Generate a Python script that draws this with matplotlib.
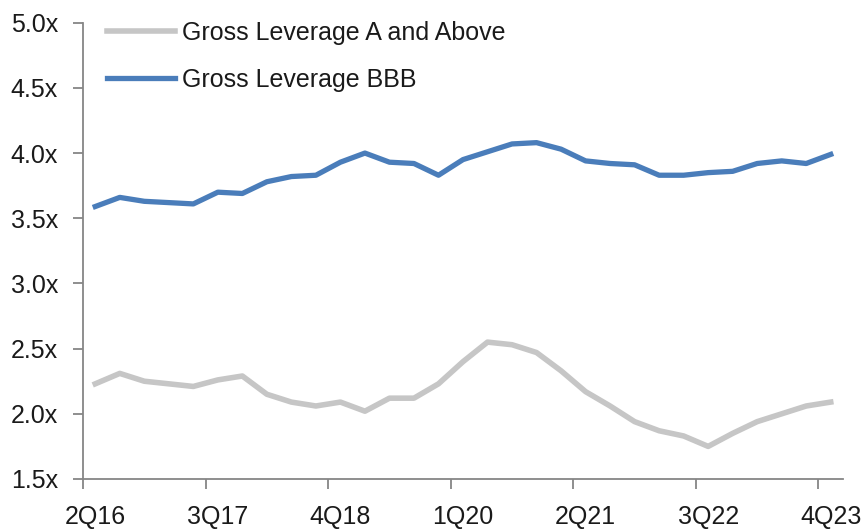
import matplotlib
matplotlib.use("Agg")
import matplotlib.pyplot as plt
from matplotlib import font_manager

# Quarterly gross leverage by rating bucket
quarters = [
    "2Q16", "3Q16", "4Q16",
    "1Q17", "2Q17", "3Q17", "4Q17",
    "1Q18", "2Q18", "3Q18", "4Q18",
    "1Q19", "2Q19", "3Q19", "4Q19",
    "1Q20", "2Q20", "3Q20", "4Q20",
    "1Q21", "2Q21", "3Q21", "4Q21",
    "1Q22", "2Q22", "3Q22", "4Q22",
    "1Q23", "2Q23", "3Q23", "4Q23",
]
a_and_above = [2.23, 2.31, 2.25, 2.23, 2.21, 2.26, 2.29, 2.15, 2.09, 2.06, 2.09,
               2.02, 2.12, 2.12, 2.23, 2.40, 2.55, 2.53, 2.47, 2.33, 2.17, 2.06,
               1.94, 1.87, 1.83, 1.75, 1.85, 1.94, 2.00, 2.06, 2.09]
bbb = [3.59, 3.66, 3.63, 3.62, 3.61, 3.70, 3.69, 3.78, 3.82, 3.83, 3.93,
       4.00, 3.93, 3.92, 3.83, 3.95, 4.01, 4.07, 4.08, 4.03, 3.94, 3.92,
       3.91, 3.83, 3.83, 3.85, 3.86, 3.92, 3.94, 3.92, 3.99]
shown_labels = ["2Q16", "3Q17", "4Q18", "1Q20", "2Q21", "3Q22", "4Q23"]
y_ticks = [1.5, 2.0, 2.5, 3.0, 3.5, 4.0, 4.5, 5.0]

available = {f.name for f in font_manager.fontManager.ttflist}
family = [f for f in ["Liberation Sans Narrow", "Liberation Sans", "DejaVu Sans"] if f in available]
plt.rcParams["font.family"] = family
FS = 18

GRAY = "#c6c6c6"
BLUE = "#4a7dba"
AXIS = "#868686"
TEXT = "#1a1a1a"

fig = plt.figure(figsize=(8.61, 5.32), dpi=100)
ax = fig.add_axes([83 / 861, 1 - 479 / 532, 760 / 861, (479 - 22.7) / 532])

x = list(range(len(quarters)))
ax.plot(x, a_and_above, color=GRAY, lw=4.0, solid_joinstyle="round",
        label="Gross Leverage A and Above")
ax.plot(x, bbb, color=BLUE, lw=3.8, solid_joinstyle="round",
        label="Gross Leverage BBB")

ax.set_xlim(-0.5, len(quarters) - 0.5)
ax.set_ylim(1.5, 5.0)

# tick marks sit on category boundaries, labels on category centres
idx = [quarters.index(q) for q in shown_labels]
ax.set_xticks([i - 0.5 for i in idx])
ax.set_xticklabels([])
ax.set_xticks(idx, minor=True)
ax.set_xticklabels(shown_labels, minor=True)
ax.tick_params(axis="x", which="major", length=7, width=1.3, color=AXIS, direction="out")
ax.tick_params(axis="x", which="minor", length=0, pad=19, labelsize=FS, labelcolor=TEXT)

ax.set_yticks(y_ticks)
ax.set_yticklabels([f"{v:.1f}x" for v in y_ticks])
ax.tick_params(axis="y", length=7, width=1.3, color=AXIS, direction="out",
               pad=11, labelsize=FS, labelcolor=TEXT)

for side in ("top", "right"):
    ax.spines[side].set_visible(False)
for side in ("left", "bottom"):
    ax.spines[side].set_color(AXIS)
    ax.spines[side].set_linewidth(1.3)

leg = ax.legend(loc="upper left", bbox_to_anchor=(0.0316, 1.004), frameon=False,
                fontsize=FS, handlelength=2.7, handletextpad=0.28,
                borderpad=0, borderaxespad=0, labelspacing=0.92)
for t in leg.get_texts():
    t.set_color(TEXT)

fig.savefig("out.png", dpi=100)
